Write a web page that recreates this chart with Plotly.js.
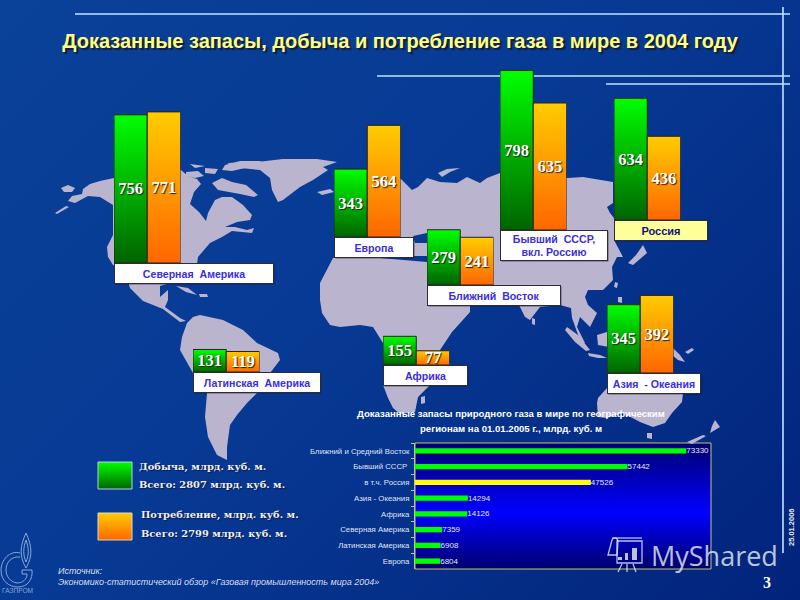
<!DOCTYPE html>
<html><head><meta charset="utf-8">
<script src="https://cdn.plot.ly/plotly-3.0.1.min.js"></script>
<style>html,body{margin:0;padding:0;width:800px;height:600px;overflow:hidden;background:linear-gradient(135deg,#0a4199 0%,#073a94 45%,#02237c 100%)}#chart{width:800px;height:600px}</style>
</head><body><div id="chart"></div>
<script>
// ---------- data ----------
const regions = ['Северная  Америка','Европа','Ближний  Восток','Бывший  СССР,<br>вкл. Россию','Россия','Азия  - Океания','Латинская  Америка','Африка'];
const production = [756,343,279,798,634,345,131,155];
const consumption = [771,564,241,635,436,392,119,77];
const seriesNames = ['Добыча','Потребление'];

const reserveCategories = ['Ближний и Средний Восток','Бывший СССР ','в т.ч. Россия','Азия - Океания','Африка','Северная Америка','Латинская Америка','Европа'];
const reserveValues = [73330,57442,47526,14294,14126,7359,6908,6804];
const reserveColors = ['#00ff00','#00ff00','#ffff00','#00ff00','#00ff00','#00ff00','#00ff00','#00ff00'];

// panel placement on the 800x600 page
const panelLeft = [114,334,427,500,614,607,193,383];
const panelBase = [263,237,285,230,220,373,372,365];
const panelScale = [0.196,0.198,0.198,0.2,0.192,0.198,0.172,0.185];
const boxRight = [273,413,560,607,707,700,320,467];
const boxBottom = [283,257,305,260,240,393,392,385];

// map outlines
const northAmerica = [[68,201],[72,196],[82,194],[83,189],[90,184],[100,181],[114,178],[130,172],[150,172],[181,170],[188,176],[197,179],[201,184],[194,192],[190,204],[199,212],[206,221],[208,213],[215,200],[222,197],[232,197],[243,205],[252,215],[250,220],[237,222],[225,227],[235,227],[247,230],[254,228],[252,233],[232,231],[222,237],[210,243],[198,257],[197,264],[190,270],[190,284],[170,283],[160,286],[160,297],[168,290],[168,300],[165,307],[180,318],[186,321],[180,322],[163,309],[143,301],[130,288],[125,272],[113,265],[108,257],[107,247],[113,235],[113,205],[100,197],[88,196],[75,203]];
const aleutians = [[55,213],[66,206],[69,207],[57,214]];
const alaskaIsle = [[61,188],[68,185],[75,188],[72,192],[64,192]];
const baffin = [[212,183],[222,178],[232,182],[246,185],[258,195],[254,197],[240,194],[228,192],[218,190]];
const victoriaIsle = [[186,172],[198,171],[204,176],[195,178],[186,176]];
const ellesmere = [[225,165],[240,161],[262,161],[245,168],[232,171],[222,170]];
const arcticIsleA = [[205,168],[218,169],[215,174],[205,173]];
const arcticIsleB = [[190,164],[205,166],[195,168]];
const cuba = [[176,286],[188,288],[197,295],[186,292]];
const hispaniola = [[199,294],[207,294],[208,297],[200,297]];
const greenland = [[227,163],[257,162],[283,159],[317,159],[337,162],[323,167],[328,170],[313,180],[300,187],[283,200],[278,202],[272,190],[270,178],[260,170],[240,168]];
const iceland = [[317,192],[330,189],[334,192],[322,195]];
const southAmerica = [[193,317],[200,315],[223,320],[243,330],[257,343],[278,353],[280,360],[267,377],[257,393],[247,403],[237,415],[230,425],[227,447],[227,460],[217,455],[208,437],[205,417],[207,393],[193,373],[180,350],[182,337],[187,323]];
const africa = [[333,258],[345,255],[380,258],[427,262],[440,290],[455,305],[470,305],[470,312],[452,332],[440,350],[436,372],[433,382],[418,397],[415,412],[400,414],[393,408],[388,398],[383,385],[383,343],[373,327],[360,325],[340,327],[330,325],[322,313],[320,300],[320,283]];
const madagascar = [[421,397],[425,396],[425,403],[421,404]];
const eurasia = [[338,252],[340,225],[345,200],[365,170],[400,178],[412,190],[418,187],[427,178],[440,182],[457,183],[467,177],[480,183],[487,178],[500,173],[568,178],[583,177],[613,182],[613,203],[607,207],[610,213],[614,218],[614,240],[623,257],[617,257],[612,267],[613,280],[603,290],[588,290],[585,297],[588,305],[597,313],[590,327],[580,317],[577,327],[585,343],[581,343],[572,318],[571,308],[560,305],[540,307],[530,320],[525,317],[518,303],[470,300],[427,256],[383,256]];
const novayaZemlya = [[438,173],[447,169],[460,168],[450,172],[442,177]];
const japan = [[628,263],[636,255],[643,245],[647,253],[633,265]];
const taiwan = [[615,282],[618,283],[617,288],[614,287]];
const philippines = [[618,297],[622,297],[622,303],[618,302]];
const sriLanka = [[532,318],[535,319],[535,325],[532,324]];
const sumatra = [[567,327],[578,335],[590,350],[586,351],[575,342],[565,330]];
const java = [[588,353],[600,355],[607,358],[598,358],[589,356]];
const borneo = [[597,335],[607,332],[609,347],[598,345]];
const newGuinea = [[673,348],[680,355],[685,362],[678,360],[672,355]];
const solomonIsle = [[685,352],[692,348],[694,350],[688,354]];
const australia = [[598,398],[607,388],[607,374],[683,374],[683,393],[682,402],[672,413],[665,423],[653,427],[640,422],[623,413],[607,418],[598,417],[597,403]];
const tasmania = [[647,433],[652,433],[652,439],[647,438]];
const newZealandN = [[715,420],[720,427],[710,433],[712,426]];
const newZealandS = [[687,442],[703,435],[706,436],[692,444]];
const blackSea = [[413,236],[427,233],[427,243],[415,243]];

const landShapes = [northAmerica,aleutians,alaskaIsle,baffin,victoriaIsle,ellesmere,arcticIsleA,arcticIsleB,cuba,hispaniola,greenland,iceland,southAmerica,africa,madagascar,eurasia,novayaZemlya,japan,taiwan,philippines,sriLanka,sumatra,java,borneo,newGuinea,solomonIsle,australia,tasmania,newZealandN,newZealandS];

// ---------- style ----------
const SAN = 'Liberation Sans, Arial, sans-serif';
const SER = 'Liberation Serif, Times New Roman, serif';
const GREEN_KEY = 'rgb(1, 254, 1)', ORANGE_KEY = 'rgb(254, 201, 1)', PANEL_KEY = 'rgb(1, 1, 254)';
const GREEN_HEX = '#01fe01', ORANGE_HEX = '#fec901', PANEL_HEX = '#0101fe';
const LINE = '#bfe4fb';

const data = [];
const layout = {
  width:800,height:600,autosize:false,margin:{l:0,r:0,t:0,b:0,pad:0},
  paper_bgcolor:'rgba(0,0,0,0)',plot_bgcolor:'rgba(0,0,0,0)',showlegend:false,hovermode:false,
  title:{text:'Доказанные запасы, добыча и потребление газа в мире в 2004 году',
    x:0.5,xanchor:'center',xref:'paper',y:1-41/600,yanchor:'middle',yref:'container',
    font:{family:SAN,size:20,color:'#ffff80',weight:700,shadow:'2px 2px 1px #141c38'}},
  xaxis:{domain:[0,1],range:[0,800],visible:false,fixedrange:true},
  yaxis:{domain:[0,1],range:[600,0],visible:false,fixedrange:true},
  shapes:[],annotations:[]
};

// world map on the page axes
landShapes.forEach(p=>data.push({type:'scatter',mode:'lines',x:p.map(q=>q[0]).concat(p[0][0]),y:p.map(q=>q[1]).concat(p[0][1]),
  fill:'toself',fillcolor:'#bab4cf',line:{width:0,color:'#bab4cf'},hoverinfo:'skip',xaxis:'x',yaxis:'y'}));
data.push({type:'scatter',mode:'lines',x:blackSea.map(q=>q[0]).concat(blackSea[0][0]),y:blackSea.map(q=>q[1]).concat(blackSea[0][1]),
  fill:'toself',fillcolor:'#083b92',line:{width:0,color:'#083b92'},hoverinfo:'skip',xaxis:'x',yaxis:'y'});

function shape(s){layout.shapes.push(Object.assign({xref:'x',yref:'y',layer:'above'},s));}
function note(text,x,y,size,color,opts){
  const o=opts||{};
  layout.annotations.push(Object.assign({text:text,x:(o.xanchor?x:x-2),y:y,xref:'x',yref:'y',showarrow:false,xanchor:'left',yanchor:'middle',
  font:{family:SAN,size:size,color:color}},o));}

// decorative rules
[[75,14,790,14],[0,76,790,76],[606,84,790,84],[783,7,783,553]].forEach((r,i)=>{
  shape({type:'line',x0:i===1?377:r[0],y0:r[1],x1:r[2],y1:r[3],line:{color:LINE,width:1.6},layer:i===1?'below':'above'});
});

// regional bar panels
regions.forEach((name,i)=>{
  const n=i+2, spanPx=175, left=panelLeft[i], base=panelBase[i], scale=panelScale[i];
  layout['xaxis'+n]={domain:[left/800,(left+66.5)/800],anchor:'y'+n,visible:false,fixedrange:true,type:'category',categoryorder:'array',categoryarray:seriesNames};
  layout['yaxis'+n]={domain:[(600-base)/600,(600-base+spanPx)/600],anchor:'x'+n,range:[0,spanPx/scale],visible:false,fixedrange:true};
  data.push({type:'bar',xaxis:'x'+n,yaxis:'y'+n,x:seriesNames,y:[production[i],consumption[i]],
    marker:{color:[GREEN_HEX,ORANGE_HEX],line:{color:'#26221c',width:1}},
    width:[1,1],text:[String(production[i]),String(consumption[i])],texttemplate:'%{text}',
    textposition:'inside',insidetextanchor:'middle',textangle:0,constraintext:'none',cliponaxis:false,
    insidetextfont:{family:SER,size:16.5,color:'#ffffff',weight:700,shadow:'1px 1px 1px #202010'},hoverinfo:'skip'});
  const top=base, bottom=boxBottom[i], right=boxRight[i], russia=i===4;
  shape({type:'rect',x0:left+1.5,y0:top+1.5,x1:right+1.5,y1:bottom+1.5,fillcolor:'rgba(20,20,40,0.55)',line:{width:0}});
  note(name,(left+right)/2,(top+bottom)/2,10.6,russia?'#10107a':'#3a2ee0',{
    xanchor:'center',align:'center',width:right-left-1,height:bottom-top-1,borderpad:0,borderwidth:1,bordercolor:'#2c2c3c',
    bgcolor:russia?'#ffff99':'#ffffff',font:{family:SAN,size:russia?11:10.6,color:russia?'#10107a':'#3a2ee0',weight:700}});
});

// legend swatches and text
shape({type:'rect',x0:98,y0:462,x1:132,y1:489,fillcolor:GREEN_HEX,line:{color:'#b6d2e0',width:1}});
shape({type:'rect',x0:98,y0:513,x1:132,y1:540,fillcolor:ORANGE_HEX,line:{color:'#d8d8d0',width:1}});
const legendFont={family:'DejaVu Serif, serif',size:9.9,color:'#f0f0f0',weight:700,shadow:'1px 1px 1px #101840'};
note('Добыча, млрд. куб. м.',139,466,9.9,'#fff',{font:legendFont});
note('Всего: 2807 млрд. куб. м.',139,484,9.9,'#fff',{font:legendFont});
note('Потребление, млрд. куб. м.',141,514,9.9,'#fff',{font:legendFont});
note('Всего: 2799 млрд. куб. м.',141,533,9.9,'#fff',{font:legendFont});

// reserves inset
const insetL=415,insetR=711,insetT=443,insetB=569;
shape({type:'rect',x0:insetL,y0:insetT,x1:insetR,y1:insetB,fillcolor:PANEL_HEX,line:{color:'#c2c67a',width:1},layer:'below'});
layout.xaxis10={domain:[insetL/800,insetR/800],anchor:'y10',range:[0,80000],visible:false,fixedrange:true};
layout.yaxis10={domain:[1-insetB/600,1-insetT/600],anchor:'x10',type:'category',categoryorder:'array',categoryarray:reserveCategories,autorange:'reversed',
  fixedrange:true,showgrid:false,zeroline:false,showline:true,linecolor:'#c2c67a',linewidth:1,ticks:'outside',ticklen:3,tickcolor:'#c2c67a',tickson:'boundaries',
  tickfont:{family:SAN,size:7.8,color:'#dfe4f4'},ticklabelstandoff:3};
data.push({type:'bar',orientation:'h',xaxis:'x10',yaxis:'y10',y:reserveCategories,x:reserveValues,
  marker:{color:reserveColors,line:{width:0}},width:0.34,text:reserveValues.map(String),textposition:'outside',constraintext:'none',cliponaxis:false,
  outsidetextfont:{family:SAN,size:8,color:'#e4e8f8'},hoverinfo:'skip'});
const insetFont={family:SAN,size:9.6,color:'#ffffff',weight:700};
note('Доказанные запасы природного газа в мире по географическим',511,413,9.6,'#fff',{xanchor:'center',font:insetFont});
note('регионам на 01.01.2005 г., млрд. куб. м',511,428,9.6,'#fff',{xanchor:'center',font:insetFont});

// source, page number, date
const srcFont={family:SAN,size:9,color:'#d9dfec',style:'italic'};
note('Источник:',58,571,9,'#ddd',{font:srcFont});
note('Экономико-статистический обзор «Газовая промышленность мира 2004»',58,582,9,'#ddd',{font:srcFont});
note('3',767,582,15,'#fff',{xanchor:'center',font:{family:SER,size:16,color:'#ffffff',weight:700}});
note('25.01.2006',791,527,8,'#e8e8e8',{xanchor:'center',textangle:-90,font:{family:SAN,size:7.5,color:'#e8e8e8',weight:700}});

// Gazprom mark
const logoLine={color:'#86a9d8',width:1};
shape({type:'path',path:'M 26,533 C 20,546 19,556 26,568 C 33,556 32,546 26,533 Z',line:logoLine});
shape({type:'path',path:'M 26,540 C 23,548 23,555 26,562 C 29,555 29,548 26,540 Z',line:logoLine});
shape({type:'path',path:'M 20,553 C 10,550 1,560 1,570 C 1,581 9,587 18,587 C 28,587 33,579 32,570 L 22,570 L 22,574 L 27,574 C 27,580 22,583 17,583 C 10,582 6,576 6,570 C 6,562 12,556 20,557',line:logoLine});
note('ГАЗПРОМ',17,590,6.6,'#86a9d8',{xanchor:'center',font:{family:SAN,size:6.6,color:'#86a9d8'}});

// MyShared watermark
const wm='rgba(226,236,244,0.82)';
shape({type:'path',path:'M 617,541 L 642,541 L 642,563 L 617,563 Z',line:{color:wm,width:1.3}});
shape({type:'path',path:'M 608,555 L 612,540 C 613,537 617,537 618,541 L 617,555 Z',line:{color:wm,width:1.3}});
shape({type:'path',path:'M 612,538 L 642,538',line:{color:wm,width:1.3}});
shape({type:'rect',x0:618,y0:557,x1:622,y1:560,fillcolor:wm,line:{width:0}});
shape({type:'rect',x0:625,y0:553,x1:628,y1:560,fillcolor:wm,line:{width:0}});
shape({type:'rect',x0:632,y0:548,x1:637,y1:560,fillcolor:wm,line:{width:0}});
shape({type:'path',path:'M 622,564 L 618,572 M 627,564 L 627,572 M 633,564 L 636,572',line:{color:wm,width:1.3}});
note('MyShared',651,555,27,wm,{font:{family:'Open Sans, sans-serif',size:27,color:wm}});

Plotly.newPlot('chart',data,layout,{staticPlot:true,displayModeBar:false}).then(()=>{
  const svg=document.querySelector('#chart .main-svg');
  const ns='http://www.w3.org/2000/svg';
  const defs=document.createElementNS(ns,'defs');
  function grad(id,stops){const g=document.createElementNS(ns,'linearGradient');g.setAttribute('id',id);
    g.setAttribute('x1','0');g.setAttribute('y1','0');g.setAttribute('x2','0');g.setAttribute('y2','1');
    stops.forEach(s=>{const e=document.createElementNS(ns,'stop');e.setAttribute('offset',s[0]);e.setAttribute('stop-color',s[1]);g.appendChild(e);});defs.appendChild(g);}
  grad('gGreen',[[0,'#00ff00'],[1,'#006400']]);
  grad('gOrange',[[0,'#ffcc00'],[1,'#ff6600']]);
  grad('gPanel',[[0,'#00006e'],[0.55,'#0000ff'],[1,'#00006e']]);
  svg.insertBefore(defs,svg.firstChild);
  const map={[GREEN_KEY]:'url(#gGreen)',[ORANGE_KEY]:'url(#gOrange)',[PANEL_KEY]:'url(#gPanel)'};
  document.querySelectorAll('#chart .bars path, #chart .shapelayer path').forEach(p=>{
    const f=map[p.style.fill]; if(f){p.style.fill=f;p.style.fillOpacity=1;}
  });
});
</script></body></html>
